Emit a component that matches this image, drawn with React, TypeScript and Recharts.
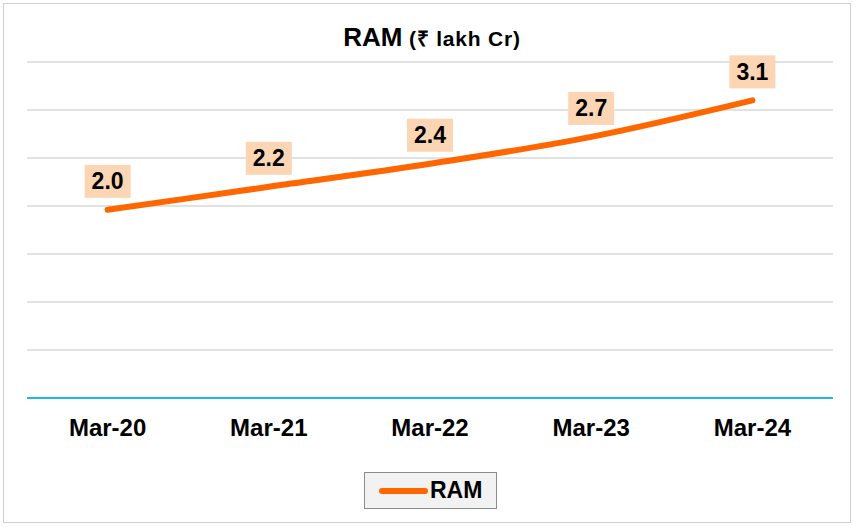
import { LineChart, Line, XAxis, YAxis, CartesianGrid, LabelList } from "recharts";

const periods = ["Mar-20", "Mar-21", "Mar-22", "Mar-23", "Mar-24"];
const ramValues = [1.96, 2.2, 2.44, 2.72, 3.1];
const yTicks = [0, 0.5, 1, 1.5, 2, 2.5, 3, 3.5];

const data = periods.map((p, i) => ({ name: p, RAM: ramValues[i] }));

const font = "'Liberation Sans', Arial, sans-serif";

const renderLabel = (props: any) => {
  const { x, y, value } = props;
  const w = 46;
  const h = 33;
  return (
    <g>
      <rect x={x - w / 2} y={y - 12 - h} width={w} height={h} fill="#fcd5b4" />
      <text
        x={x}
        y={y - 12 - h / 2}
        textAnchor="middle"
        dominantBaseline="central"
        fontFamily={font}
        fontWeight="bold"
        fontSize={23}
        fill="#000"
      >
        {Number(value).toFixed(1)}
      </text>
    </g>
  );
};

export default function App() {
  return (
    <div style={{ position: "absolute", left: 0, top: 0, width: 858, height: 527, background: "#fff" }}>
      <div
        style={{
          position: "absolute",
          left: 3,
          top: 3,
          width: 848,
          height: 520,
          border: "1.5px solid #d0d0d0",
          boxSizing: "border-box",
        }}
      />
      <div
        style={{
          position: "absolute",
          left: 0,
          width: 864,
          top: 22,
          textAlign: "center",
          fontFamily: font,
          fontWeight: "bold",
          color: "#000",
        }}
      >
        <span style={{ fontSize: 26 }}>RAM</span>
        <span style={{ fontSize: 21, letterSpacing: 0.8 }}> (₹ lakh Cr)</span>
      </div>
      <LineChart
        width={858}
        height={527}
        data={data}
        margin={{ top: 62, left: 27, right: 25, bottom: 79 }}
        style={{ position: "absolute", left: 0, top: 0 }}
      >
        <CartesianGrid vertical={false} stroke="#d9d9d9" strokeWidth={1.5} />
        <YAxis hide domain={[0, 3.5]} ticks={yTicks} />
        <XAxis
          dataKey="name"
          height={50}
          padding={{ left: 80.6, right: 80.6 }}
          axisLine={{ stroke: "#29b3e4", strokeWidth: 2 }}
          tickLine={false}
          tick={{ fontFamily: font, fontWeight: "bold", fontSize: 24, fill: "#000" }}
          tickMargin={15}
        />
        <Line
          type="monotone"
          dataKey="RAM"
          stroke="#ff6600"
          strokeWidth={6}
          strokeLinecap="round"
          dot={false}
          activeDot={false}
          isAnimationActive={false}
        >
          <LabelList dataKey="RAM" content={renderLabel} />
        </Line>
      </LineChart>
      <div
        style={{
          position: "absolute",
          left: 364,
          top: 472,
          display: "flex",
          alignItems: "center",
          background: "#f2f2f2",
          border: "1.5px solid #8c8c8c",
          width: 133,
          height: 37,
          boxSizing: "border-box",
          paddingLeft: 14,
        }}
      >
        <div style={{ width: 49, height: 6, borderRadius: 3, background: "#ff6600", marginRight: 2 }} />
        <span style={{ fontFamily: font, fontWeight: "bold", fontSize: 23, color: "#000" }}>RAM</span>
      </div>
    </div>
  );
}
